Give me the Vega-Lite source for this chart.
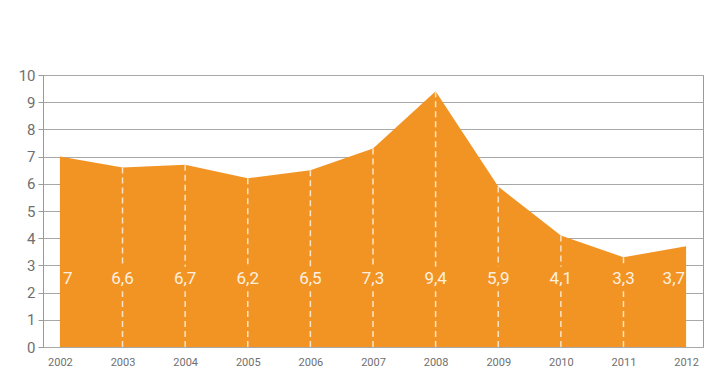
{
  "$schema": "https://vega.github.io/schema/vega-lite/v6.json",
  "autosize": "none",
  "width": 660,
  "height": 272,
  "padding": {"left": 43, "top": 75, "right": 14, "bottom": 28},
  "background": "white",
  "config": {
    "view": {"stroke": "#9a9a9a", "strokeWidth": 1},
    "font": "Roboto"
  },
  "data": {
    "values": [
      {"year": "2002", "v": 7.0, "label": "7"},
      {"year": "2003", "v": 6.6, "label": "6,6"},
      {"year": "2004", "v": 6.7, "label": "6,7"},
      {"year": "2005", "v": 6.2, "label": "6,2"},
      {"year": "2006", "v": 6.5, "label": "6,5"},
      {"year": "2007", "v": 7.3, "label": "7,3"},
      {"year": "2008", "v": 9.4, "label": "9,4"},
      {"year": "2009", "v": 5.9, "label": "5,9"},
      {"year": "2010", "v": 4.1, "label": "4,1"},
      {"year": "2011", "v": 3.3, "label": "3,3"},
      {"year": "2012", "v": 3.7, "label": "3,7"}
    ]
  },
  "encoding": {
    "x": {
      "field": "year", "type": "ordinal",
      "scale": {"type": "point", "padding": 0.27},
      "axis": {"title": null, "labelAngle": 0, "ticks": false, "domain": false, "labelColor": "#6f6f6f", "labelFontSize": 11, "labelPadding": 9, "labelFont": "Roboto"}
    }
  },
  "resolve": {"scale": {"y": "shared"}, "axis": {"y": "independent"}},
  "layer": [
    {
      "mark": {"type": "area", "color": "#f29423", "opacity": 1},
      "encoding": {
        "y": {
          "field": "v", "type": "quantitative",
          "scale": {"domain": [0, 10], "nice": false, "zero": true},
          "axis": {"title": null, "values": [0,1,2,3,4,5,6,7,8,9,10], "labelOverlap": false, "grid": true, "gridColor": "#a8a8a8", "gridWidth": 1, "domainColor": "#9a9a9a", "tickColor": "#9a9a9a", "tickSize": 5, "labelColor": "#6f6f6f", "labelFontSize": 15, "labelPadding": 3, "labelFont": "Roboto"}
        }
      }
    },
    {
      "transform": [{"filter": "datum.year != '2002' && datum.year != '2012'"}],
      "mark": {"type": "rule", "color": "#fbe3c4", "strokeDash": [6, 4], "strokeWidth": 1.5},
      "encoding": {"y": {"datum": 0, "type": "quantitative", "axis": null}, "y2": {"datum": 2.05}}
    },
    {
      "transform": [{"filter": "datum.year != '2002' && datum.year != '2012'"}],
      "mark": {"type": "rule", "color": "#fbe3c4", "strokeDash": [6, 4], "strokeWidth": 1.5},
      "encoding": {"y": {"field": "v", "type": "quantitative", "axis": null}, "y2": {"datum": 2.95}}
    },
    {
      "transform": [{"filter": "datum.year != '2002' && datum.year != '2012'"}],
      "mark": {"type": "text", "color": "#fdf0e0", "fontSize": 17, "align": "center", "baseline": "middle"},
      "encoding": {"y": {"datum": 2.5, "type": "quantitative", "axis": null}, "text": {"field": "label", "type": "nominal"}}
    },
    {
      "transform": [{"filter": "datum.year == '2002'"}],
      "mark": {"type": "text", "color": "#fdf0e0", "fontSize": 17, "align": "left", "baseline": "middle", "dx": 3},
      "encoding": {"y": {"datum": 2.5, "type": "quantitative", "axis": null}, "text": {"field": "label", "type": "nominal"}}
    },
    {
      "transform": [{"filter": "datum.year == '2012'"}],
      "mark": {"type": "text", "color": "#fdf0e0", "fontSize": 17, "align": "right", "baseline": "middle", "dx": -1},
      "encoding": {"y": {"datum": 2.5, "type": "quantitative", "axis": null}, "text": {"field": "label", "type": "nominal"}}
    }
  ]
}
